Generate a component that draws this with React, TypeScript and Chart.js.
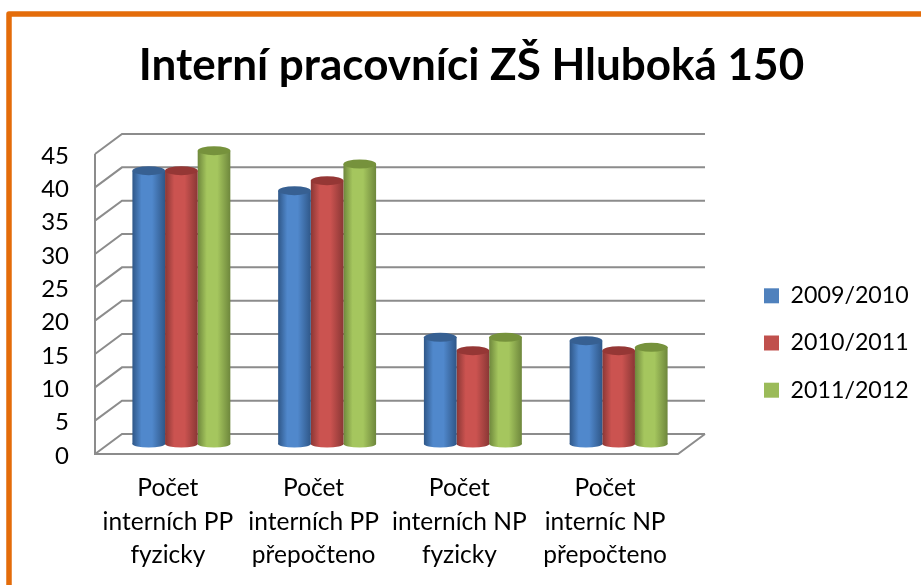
import React, { useEffect, useRef } from "react";
import { Chart, registerables } from "chart.js";

Chart.register(...registerables);

const categories = [
  ["Počet", "interních PP", "fyzicky"],
  ["Počet", "interních PP", "přepočteno"],
  ["Počet", "interních NP", "fyzicky"],
  ["Počet", "interníc NP", "přepočteno"],
];
const years = ["2009/2010", "2010/2011", "2011/2012"];
const series2009 = [41, 38, 16, 15.5];
const series2010 = [41, 39.5, 14, 14];
const series2011 = [44, 42, 16, 14.5];
const titleText = "Interní pracovníci ZŠ Hluboká 150";

const legendColors = ["#4F81BD", "#C0504D", "#9BBB59"];
const brightColors = ["#5088CC", "#CB5350", "#A5C65E"];
const edgeColors = ["#2F5788", "#8A3735", "#6E873C"];
const capColors = ["#376092", "#953735", "#76923C"];

const DEPTH_X = 27;
const DEPTH_Y = 20;
const GRID = "#8C8C8C";
const FONT = "Lato";
const CATEGORY_PCT = 0.672;

const barGeometry = (chart: any, index: number, ds: number) => {
  const xs = chart.scales.x;
  const cat = (chart.chartArea.right - chart.chartArea.left) / categories.length;
  const w = (cat * CATEGORY_PCT) / years.length;
  const cx = xs.getPixelForTick(index) + (ds - 1) * w;
  return { left: cx - w / 2, right: cx + w / 2, cx, w };
};

const barFill = (ctx: any) => {
  const chart = ctx.chart;
  if (!chart.chartArea || ctx.dataIndex === undefined) return legendColors[ctx.datasetIndex];
  const g = barGeometry(chart, ctx.dataIndex, ctx.datasetIndex);
  const grad = chart.ctx.createLinearGradient(g.left, 0, g.right, 0);
  const edge = edgeColors[ctx.datasetIndex];
  const bright = brightColors[ctx.datasetIndex];
  grad.addColorStop(0, edge);
  grad.addColorStop(0.28, bright);
  grad.addColorStop(0.6, bright);
  grad.addColorStop(1, edge);
  return grad;
};

const scene = {
  id: "scene",
  beforeDraw(chart: any) {
    const c = chart.ctx;
    c.save();
    c.strokeStyle = "#E46C0A";
    c.lineWidth = 5.5;
    c.lineJoin = "round";
    c.beginPath();
    c.moveTo(9, 585);
    c.lineTo(9, 14);
    c.lineTo(921, 14);
    c.stroke();
    c.restore();
  },
  afterLayout(chart: any) {
    const t = chart.titleBlock;
    t.left = 0;
    t.right = 943;
    const l = chart.legend;
    const w = l.right - l.left;
    const h = l.bottom - l.top;
    l.left = 764 - l.options.labels.padding;
    l.right = l.left + w;
    l.top = 343 - h / 2;
    l.bottom = l.top + h;
  },
  beforeDatasetsDraw(chart: any) {
    const c = chart.ctx;
    const { left, right } = chart.chartArea;
    const ys = chart.scales.y;
    c.save();
    c.strokeStyle = GRID;
    c.lineWidth = 2;
    ys.ticks.forEach((tick: any) => {
      const y = ys.getPixelForValue(tick.value);
      c.beginPath();
      c.moveTo(left, y);
      c.lineTo(left + DEPTH_X, y - DEPTH_Y);
      c.lineTo(right + DEPTH_X, y - DEPTH_Y);
      c.stroke();
    });
    const y0 = ys.getPixelForValue(0);
    c.beginPath();
    c.moveTo(left, ys.getPixelForValue(45));
    c.lineTo(left, y0);
    c.lineTo(right, y0);
    c.lineTo(right + DEPTH_X, y0 - DEPTH_Y);
    c.stroke();
    c.restore();
  },
  beforeDatasetDraw(chart: any, args: any) {
    const c = chart.ctx;
    c.save();
    c.translate(DEPTH_X / 2, -DEPTH_Y / 2);
    const ys = chart.scales.y;
    const y0 = ys.getPixelForValue(0);
    args.meta.data.forEach((_: any, i: number) => {
      const g = barGeometry(chart, i, args.index);
      const grad = c.createLinearGradient(g.left, 0, g.right, 0);
      grad.addColorStop(0, edgeColors[args.index]);
      grad.addColorStop(0.28, brightColors[args.index]);
      grad.addColorStop(0.6, brightColors[args.index]);
      grad.addColorStop(1, edgeColors[args.index]);
      c.fillStyle = grad;
      c.beginPath();
      c.ellipse(g.cx, y0, g.w / 2, 3.5, 0, 0, Math.PI * 2);
      c.fill();
    });
  },
  afterDatasetDraw(chart: any, args: any) {
    const c = chart.ctx;
    args.meta.data.forEach((bar: any, i: number) => {
      const g = barGeometry(chart, i, args.index);
      c.fillStyle = capColors[args.index];
      c.beginPath();
      c.ellipse(g.cx, bar.y, g.w / 2, 4.5, 0, 0, Math.PI * 2);
      c.fill();
    });
    c.restore();
  },
};

export default function App() {
  const ref = useRef<HTMLCanvasElement>(null);
  useEffect(() => {
    const chart = new Chart(ref.current as HTMLCanvasElement, {
      type: "bar",
      data: {
        labels: categories,
        datasets: [series2009, series2010, series2011].map((data, i) => ({
          label: years[i],
          data,
          backgroundColor: barFill,
          borderWidth: 0,
          barPercentage: 1,
          categoryPercentage: CATEGORY_PCT,
          clip: false,
        })),
      } as any,
      options: {
        responsive: false,
        animation: false,
        layout: { padding: { left: 0, right: 243, top: 0, bottom: 0 } },
        plugins: {
          tooltip: { enabled: false },
          title: {
            display: true,
            text: titleText,
            color: "#000",
            font: { family: FONT, size: 44, weight: "bold", lineHeight: 1.2 },
            padding: { top: 39, bottom: 62.2 },
          },
          legend: {
            position: "chartArea",
            labels: {
              color: "#000",
              boxWidth: 15,
              boxHeight: 15,
              padding: 24,
              font: { family: FONT, size: 23.2, lineHeight: 1.2 },
              generateLabels: () =>
                years.map((text, i) => ({
                  text,
                  fillStyle: legendColors[i],
                  strokeStyle: legendColors[i],
                  lineWidth: 0,
                  hidden: false,
                  datasetIndex: i,
                })),
            },
          },
        },
        scales: {
          x: {
            grid: { display: false },
            border: { display: false },
            afterFit: (s: any) => {
              s.height = 131;
            },
            ticks: {
              color: "#000",
              maxRotation: 0,
              minRotation: 0,
              autoSkip: false,
              padding: 10,
              font: { family: FONT, size: 24.5, lineHeight: 1.35 },
            },
          },
          y: {
            min: 0,
            max: 45,
            grid: { display: false },
            border: { display: false },
            afterFit: (s: any) => {
              s.width = 95;
            },
            ticks: {
              stepSize: 5,
              color: "#000",
              padding: 18,
              labelOffset: 2,
              font: { family: FONT, size: 24 },
            },
          },
        },
      },
      plugins: [scene],
    } as any);
    return () => chart.destroy();
  }, []);
  return (
    <div style={{ position: "absolute", left: 0, top: 0, width: 921, height: 585, background: "#fff" }}>
      <canvas ref={ref} width={921} height={585} style={{ display: "block" }} />
    </div>
  );
}
